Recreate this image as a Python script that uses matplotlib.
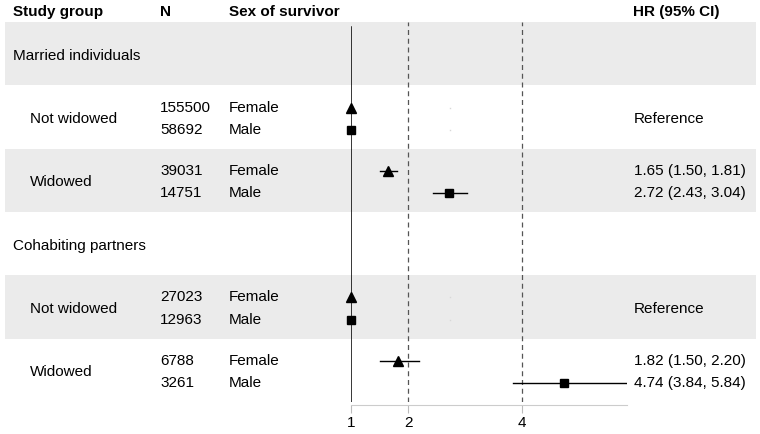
import numpy as np
import matplotlib.pyplot as plt

plt.rcParams['font.family'] = ['Liberation Sans', 'DejaVu Sans']

# table rows (group header rows have no estimates)
row_labels = ['Married individuals', 'Not widowed', 'Widowed',
              'Cohabiting partners', 'Not widowed', 'Widowed']
is_group = [True, False, False, True, False, False]

# per subgroup: female then male
n_female = ['155500', '39031', '27023', '6788']
n_male = ['58692', '14751', '12963', '3261']
hr_female = [1.00, 1.65, 1.00, 1.82]
lo_female = [1.00, 1.50, 1.00, 1.50]
hi_female = [1.00, 1.81, 1.00, 2.20]
hr_male = [1.00, 2.72, 1.00, 4.74]
lo_male = [1.00, 2.43, 1.00, 3.84]
hi_male = [1.00, 3.04, 1.00, 5.84]
hr_text_female = ['Reference', '1.65 (1.50, 1.81)', 'Reference', '1.82 (1.50, 2.20)']
hr_text_male = ['', '2.72 (2.43, 3.04)', '', '4.74 (3.84, 5.84)']
is_ref = [True, False, True, False]

xticks = [1, 2, 4]

W, H = 760, 434
fig = plt.figure(figsize=(W / 100, H / 100), dpi=100)

top_px, bot_px = 22, 402
nrows = len(row_labels)
bg = fig.add_axes([0, 1 - bot_px / H, 1, (bot_px - top_px) / H])
bg.set_xlim(0, W)
bg.set_ylim(nrows, 0)
bg.axis('off')

fp = fig.add_axes([351 / W, 1 - bot_px / H, 276 / W, (bot_px - top_px) / H])
fp.set_xlim(1, 5.84)
fp.set_ylim(nrows, 0)
fp.patch.set_alpha(0)

# shading of alternating rows
for i in range(nrows):
    if i % 2 == 0:
        bg.axhspan(i, i + 1, xmin=5 / W, xmax=756 / W, color='#ebebeb', lw=0, zorder=0)

fs = 11
# header
hy = -0.16
for x, t in [(13, 'Study group'), (160, 'N'), (229, 'Sex of survivor'), (633, 'HR (95% CI)')]:
    bg.text(x, hy, t, fontsize=fs, fontweight='bold', va='center', ha='left', clip_on=False)

f_off, m_off = 0.35, 0.70
sub_rows = [i for i in range(nrows) if not is_group[i]]
for i in range(nrows):
    if is_group[i]:
        bg.text(13, i + 0.53, row_labels[i], fontsize=fs, va='center')
    else:
        bg.text(30, i + 0.53, row_labels[i], fontsize=fs, va='center')

for k, i in enumerate(sub_rows):
    yf, ym = i + f_off, i + m_off
    bg.text(160, yf, n_female[k], fontsize=fs, va='center')
    bg.text(160, ym, n_male[k], fontsize=fs, va='center')
    bg.text(229, yf, 'Female', fontsize=fs, va='center')
    bg.text(229, ym, 'Male', fontsize=fs, va='center')
    if is_ref[k]:
        bg.text(634, i + 0.53, hr_text_female[k], fontsize=fs, va='center')
        # faint placeholder dots
        fp.plot([2.74, 2.74], [yf, ym], 's', ms=1, color='#d8d8d8', mew=0)
    else:
        bg.text(634, yf, hr_text_female[k], fontsize=fs, va='center')
        bg.text(634, ym, hr_text_male[k], fontsize=fs, va='center')
    fp.plot([lo_female[k], hi_female[k]], [yf, yf], color='black', lw=1, zorder=3)
    fp.plot([lo_male[k], hi_male[k]], [ym, ym], color='black', lw=1, zorder=3)
    fp.plot(hr_female[k], yf, '^', ms=6.5, color='black', zorder=4, clip_on=False)
    fp.plot(hr_male[k], ym, 's', ms=5.5, color='black', zorder=4, clip_on=False)

# reference lines
fp.axvline(1, ymin=0, ymax=0.987, color='black', lw=1.1, zorder=2)
for v in [2, 4]:
    fp.axvline(v, color='#555555', lw=0.9, ls=(0, (4, 3)), zorder=2)

for s in ['top', 'right', 'left']:
    fp.spines[s].set_visible(False)
fp.spines['bottom'].set_color('#cccccc')
fp.spines['bottom'].set_position(('outward', 2))
fp.set_yticks([])
fp.set_xticks(xticks)
fp.set_xticklabels([str(t) for t in xticks])
fp.tick_params(axis='x', colors='#bbbbbb', labelcolor='black', labelsize=fs, length=6, width=0.8, pad=2)

fig.savefig('out.png', dpi=100)
